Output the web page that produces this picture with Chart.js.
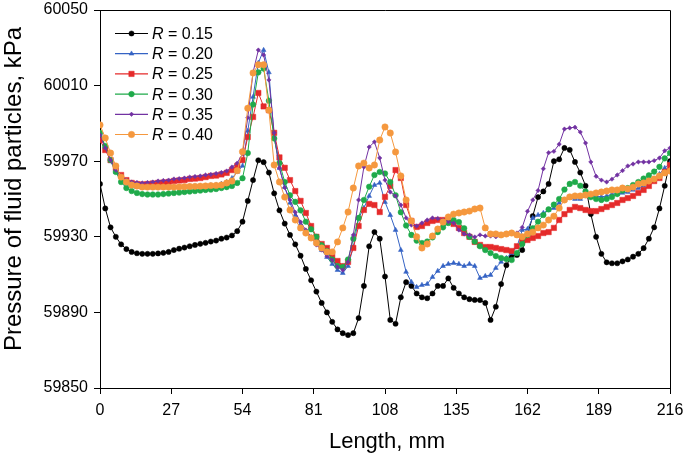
<!DOCTYPE html>
<html>
<head>
<meta charset="utf-8">
<script src="https://cdn.jsdelivr.net/npm/chart.js@4"></script>
<style>
  html, body { margin: 0; padding: 0; background: #fff; }
  #wrap { width: 685px; height: 457px; }
</style>
</head>
<body>
<div id="wrap"><canvas id="pressureChart"></canvas></div>
<script>
// Length along the channel, mm
const lengthMm = [
  0, 2, 4, 6, 8, 10, 12, 14, 16, 18,
  20, 22, 24, 26, 28, 30, 32, 34, 36, 38,
  40, 42, 44, 46, 48, 50, 52, 54, 56, 58,
  60, 62, 64, 66, 68, 70, 72, 74, 76, 78,
  80, 82, 84, 86, 88, 90, 92, 94, 96, 98,
  100, 102, 104, 106, 108, 110, 112, 114, 116, 118,
  120, 122, 124, 126, 128, 130, 132, 134, 136, 138,
  140, 142, 144, 146, 148, 150, 152, 154, 156, 158,
  160, 162, 164, 166, 168, 170, 172, 174, 176, 178,
  180, 182, 184, 186, 188, 190, 192, 194, 196, 198,
  200, 202, 204, 206, 208, 210, 212, 214, 216
];

// Pressure of fluid particles, kPa
const pR015 = [
  59958, 59945, 59935, 59930, 59926, 59923.5, 59922, 59921.3, 59921, 59921,
  59921, 59921.2, 59921.5, 59922, 59923, 59923.7, 59924.3, 59925, 59925.7, 59926.3,
  59926.8, 59927.5, 59928, 59929, 59929.6, 59930.7, 59933, 59938, 59949, 59960,
  59970.5, 59969.5, 59964, 59953, 59944, 59937, 59931, 59926, 59920, 59913,
  59907, 59901, 59895, 59890, 59885, 59881, 59879, 59878, 59879, 59887,
  59904, 59925, 59932.5, 59929, 59909, 59886, 59884, 59898, 59906, 59904,
  59900, 59898, 59897.5, 59900, 59904, 59904, 59908, 59903, 59900, 59898,
  59897, 59896.6, 59896.5, 59895, 59886, 59893, 59905, 59915, 59919.5, 59920.4,
  59923, 59931, 59941, 59951, 59954, 59958, 59970, 59971, 59977, 59976,
  59969.6, 59964, 59957, 59942, 59930, 59921, 59916.5, 59916, 59916, 59917,
  59918, 59919.5, 59921, 59924, 59929, 59935, 59945, 59957, 59970
];
const pR020 = [
  59984, 59977.5, 59970, 59964.3, 59960, 59958, 59956.9, 59956.3, 59956, 59956,
  59956, 59956, 59956, 59956.1, 59956.3, 59956.3, 59956.4, 59956.6, 59956.7, 59956.9,
  59957, 59957.2, 59957.4, 59958, 59959, 59961, 59964.3, 59967.5, 59986, 60004,
  60022, 60028.8, 60017, 59983, 59966.4, 59956.3, 59947.9, 59941.5, 59936.8, 59932.5,
  59929.4, 59926.7, 59923, 59919.3, 59915.6, 59912.4, 59910.8, 59914.5, 59924.6, 59939.9,
  59945.2, 59951.6, 59957.4, 59958.5, 59948.4, 59941.5, 59933.6, 59923, 59911.4, 59906.1,
  59903.4, 59904.5, 59905, 59908.7, 59911.9, 59914.5, 59915.6, 59916.1, 59915.6, 59914.5,
  59915.6, 59914.5, 59908.2, 59909.2, 59909.8, 59913.5, 59916.7, 59918.8, 59921.4, 59924.6,
  59933.6, 59934.1, 59939.9, 59941.5, 59942.6, 59944.2, 59945.2, 59947.9, 59949.5, 59950.5,
  59950, 59950, 59951.6, 59952.1, 59951.6, 59951.1, 59951.6, 59952.6, 59952.6, 59953.2,
  59953.7, 59954.8, 59955.8, 59956.9, 59958.5, 59960, 59963.2, 59966.4, 59969
];
const pR025 = [
  59981.2, 59975.9, 59970.6, 59966.4, 59962.7, 59960, 59958.5, 59957.9, 59957.7, 59957.9,
  59958.2, 59958.5, 59958.7, 59959, 59959.5, 59959.8, 59960, 59960.6, 59960.8, 59961.1,
  59961.6, 59962.2, 59962.4, 59963, 59963.8, 59965.3, 59967.5, 59970.6, 59982.8, 59993.4,
  60006.1, 59999, 59997, 59985, 59972, 59966.5, 59960, 59954.2, 59949, 59942.6,
  59935.7, 59930, 59926.2, 59924.1, 59919.8, 59917.2, 59914.5, 59916.7, 59924.1, 59935.7,
  59944.2, 59947.4, 59946.8, 59943.1, 59951.1, 59956.9, 59965.3, 59961.1, 59946.8, 59938.4,
  59935.2, 59935.7, 59937.3, 59938.4, 59938.9, 59938.9, 59937.8, 59936.8, 59934.7, 59932,
  59930, 59927.3, 59925.7, 59924.6, 59924.6, 59924.1, 59923.5, 59923, 59922.5, 59925,
  59927.8, 59928.3, 59929.4, 59930.4, 59932, 59932.5, 59934.7, 59938.9, 59942, 59944.2,
  59945.8, 59945.2, 59944.2, 59943.6, 59943.6, 59944.7, 59945.8, 59946.8, 59947.9, 59949.5,
  59950.5, 59951.6, 59953.2, 59954.8, 59956.9, 59959.5, 59961.1, 59964.3, 59968
];
const pR030 = [
  59985, 59978, 59970.6, 59964.3, 59959, 59955.8, 59954.2, 59953.2, 59952.6, 59952.4,
  59952.4, 59952.4, 59952.6, 59952.9, 59953.2, 59953.4, 59953.7, 59954, 59954.2, 59954.5,
  59954.8, 59955, 59955.3, 59955.8, 59956.3, 59956.9, 59958.5, 59961, 59974.3, 60000,
  60017, 60019, 60002, 59982, 59969, 59959, 59952, 59948.5, 59944, 59938,
  59934, 59930, 59925.5, 59922.5, 59918, 59914.5, 59914, 59918, 59929, 59940,
  59949.5, 59956.5, 59962.7, 59964.3, 59963.5, 59959, 59952, 59943, 59936, 59931,
  59928, 59926.7, 59927.5, 59929.7, 59932.5, 59935, 59937.3, 59938.9, 59937.8, 59934.5,
  59930, 59927.5, 59925, 59923, 59921.4, 59919.8, 59918.8, 59918.2, 59917.7, 59921.4,
  59926.2, 59931, 59934.5, 59938, 59941.5, 59944.5, 59947, 59950, 59955, 59958,
  59959, 59957, 59954, 59951, 59950, 59949.5, 59950, 59951, 59952.6, 59954.5,
  59955.8, 59957.4, 59959, 59960.8, 59962.5, 59964.5, 59967, 59971.5, 59974.3
];
const pR035 = [
  59983.9, 59977, 59970.6, 59965.3, 59962.2, 59960, 59959, 59958.7, 59958.5, 59958.7,
  59959, 59959.5, 59959.8, 59960, 59960.6, 59960.8, 59961.1, 59961.6, 59961.9, 59962.2,
  59962.7, 59963, 59963.5, 59964, 59964.8, 59966.9, 59969, 59974, 59993, 60017,
  60028.8, 60026.2, 60013, 59985, 59966.4, 59956, 59949.5, 59943, 59937.8, 59933.6,
  59930, 59925.7, 59923, 59919.8, 59917.7, 59914, 59912.4, 59916.7, 59931, 59949.5,
  59966.9, 59977.5, 59980.2, 59971.7, 59960, 59953.7, 59951.6, 59946.8, 59940, 59936.2,
  59935.7, 59937.3, 59938.9, 59940, 59939.7, 59938.9, 59938, 59937.3, 59933.6, 59931.5,
  59931, 59929.9, 59931, 59930.4, 59930.4, 59930, 59930.5, 59931.5, 59932, 59932,
  59935, 59943.5, 59949.5, 59954.5, 59966, 59974.5, 59975.2, 59979, 59987, 59987.6,
  59988, 59985.4, 59979.6, 59969.6, 59962, 59960, 59959, 59960.5, 59962.7, 59965,
  59967.5, 59968.5, 59969.6, 59969.6, 59969.6, 59970.3, 59971.7, 59975.5, 59977
];
const pR040 = [
  59989.2, 59982.3, 59974.3, 59967.5, 59961.6, 59959, 59957.4, 59956.9, 59956.3, 59956.3,
  59956.3, 59956.3, 59956.3, 59956.3, 59956.3, 59956.4, 59956.5, 59956.6, 59956.7, 59956.8,
  59956.9, 59957.1, 59957.2, 59957.4, 59958.5, 59959.5, 59965, 59975, 59998, 60016.7,
  60021, 60021, 59997, 59968, 59959, 59951, 59944.2, 59938.9, 59934.7, 59932,
  59929.4, 59926.7, 59924.1, 59922, 59922, 59927.3, 59934.7, 59943.1, 59955.8, 59967.5,
  59969, 59966.4, 59968, 59981.2, 59988.1, 59984.9, 59974.9, 59962.2, 59949.5, 59938.4,
  59930, 59924.1, 59926.2, 59930.4, 59934.1, 59937.8, 59940.5, 59942, 59942.6, 59943.1,
  59943.6, 59944.7, 59945.2, 59934.7, 59931.5, 59931.5, 59931, 59931.5, 59932, 59931,
  59930, 59931.5, 59932.5, 59934.7, 59936.2, 59938.9, 59940.9, 59945.2, 59949.5, 59951.1,
  59951.6, 59951.6, 59952.1, 59952.6, 59953.2, 59953.7, 59954.2, 59954.8, 59954.8, 59955.8,
  59955.3, 59956.3, 59957.9, 59958.5, 59959.5, 59960.6, 59962.2, 59963.8, 59964.8
];

const seriesRatio = ['0.15', '0.20', '0.25', '0.30', '0.35', '0.40'];
const seriesValues = [pR015, pR020, pR025, pR030, pR035, pR040];
const seriesColor = ['#000000', '#3563c4', '#e52a2a', '#1faa4a', '#7232a2', '#f5983e'];
const seriesMarker = ['circle', 'triangle', 'rect', 'circle', 'rectRot', 'circle'];
const seriesRadius = [2.6, 2.8, 3.8, 2.8, 2.2, 3.2];
const seriesOrder = [5, 4, 3, 2, 1, 0];

const yTicks = [59850, 59890, 59930, 59970, 60010, 60050];
const xTicks = [0, 27, 54, 81, 108, 135, 162, 189, 216];

const FONT = '"Liberation Sans", Arial, sans-serif';

const datasets = seriesValues.map((vals, i) => ({
  label: 'R = ' + seriesRatio[i],
  data: vals.map((v, k) => ({ x: lengthMm[k], y: v })),
  borderColor: seriesColor[i],
  backgroundColor: seriesColor[i],
  borderWidth: 1,
  pointStyle: seriesMarker[i],
  pointRadius: seriesRadius[i],
  pointBorderWidth: 0.5,
  pointHoverRadius: seriesRadius[i],
  tension: 0,
  order: seriesOrder[i]
}));

// frame, axis titles and the legend
const decor = {
  id: 'decor',
  afterDraw(chart) {
    const ctx = chart.ctx;
    const a = chart.chartArea;
    ctx.save();
    ctx.strokeStyle = '#000';
    ctx.lineWidth = 1;
    ctx.beginPath();
    ctx.moveTo(a.left, a.top + 0.5);
    ctx.lineTo(a.right + 0.5, a.top + 0.5);
    ctx.lineTo(a.right + 0.5, a.bottom);
    ctx.stroke();

    ctx.fillStyle = '#000';
    ctx.textAlign = 'center';
    ctx.textBaseline = 'middle';
    ctx.font = '22px ' + FONT;
    ctx.fillText('Length, mm', 387, 442);

    ctx.save();
    ctx.translate(14, 189);
    ctx.rotate(-Math.PI / 2);
    ctx.font = '24px ' + FONT;
    ctx.fillText('Pressure of fluid particles, kPa', 0, 0);
    ctx.restore();

    // legend
    const x0 = 115, x1 = 148, rowTop = 33.5, rowGap = 20.2;
    chart.data.datasets.forEach((ds, i) => {
      const y = rowTop + i * rowGap;
      ctx.strokeStyle = ds.borderColor;
      ctx.fillStyle = ds.backgroundColor;
      ctx.lineWidth = 1.2;
      ctx.beginPath();
      ctx.moveTo(x0, y);
      ctx.lineTo(x1, y);
      ctx.stroke();
      ctx.lineWidth = 0.5;
      Chart.helpers.drawPoint(ctx, {
        pointStyle: ds.pointStyle,
        radius: ds.pointRadius,
        rotation: 0,
        borderWidth: 0.5
      }, (x0 + x1) / 2, y);
      ctx.fillStyle = '#000';
      ctx.textAlign = 'left';
      ctx.textBaseline = 'middle';
      ctx.font = 'italic 16px ' + FONT;
      ctx.fillText('R', 152, y + 1);
      const rw = ctx.measureText('R').width;
      ctx.font = '16px ' + FONT;
      ctx.fillText(' = ' + seriesRatio[i], 152 + rw, y + 1);
    });
    ctx.restore();
  }
};

const chart = new Chart(document.getElementById('pressureChart').getContext('2d'), {
  type: 'line',
  data: { datasets: datasets },
  options: {
    responsive: true,
    maintainAspectRatio: false,
    animation: false,
    layout: { padding: { top: 10, right: 15, left: 0, bottom: 0 } },
    plugins: {
      legend: { display: false },
      tooltip: { enabled: false }
    },
    scales: {
      x: {
        type: 'linear',
        min: 0,
        max: 216,
        afterBuildTicks(scale) { scale.ticks = xTicks.map(v => ({ value: v })); },
        afterFit(scale) {
          scale.height = 69;
          scale.paddingLeft = 0;
          scale.paddingRight = 0;
        },
        ticks: {
          color: '#000',
          font: { family: FONT, size: 16 },
          padding: 7,
          maxRotation: 0,
          autoSkip: false
        },
        grid: { display: true, drawOnChartArea: false, drawTicks: true, tickLength: 6, color: '#000', lineWidth: 1 },
        border: { display: true, color: '#000', width: 1 }
      },
      y: {
        min: 59850,
        max: 60050,
        afterBuildTicks(scale) { scale.ticks = yTicks.map(v => ({ value: v })); },
        afterFit(scale) {
          scale.width = 100;
          scale.paddingTop = 0;
          scale.paddingBottom = 0;
        },
        ticks: {
          color: '#000',
          font: { family: FONT, size: 16 },
          padding: 6,
          callback: v => String(v)
        },
        grid: { display: true, drawOnChartArea: false, drawTicks: true, tickLength: 6, color: '#000', lineWidth: 1 },
        border: { display: true, color: '#000', width: 1 }
      }
    }
  },
  plugins: [decor]
});

window.chart = chart;
</script>
</body>
</html>
